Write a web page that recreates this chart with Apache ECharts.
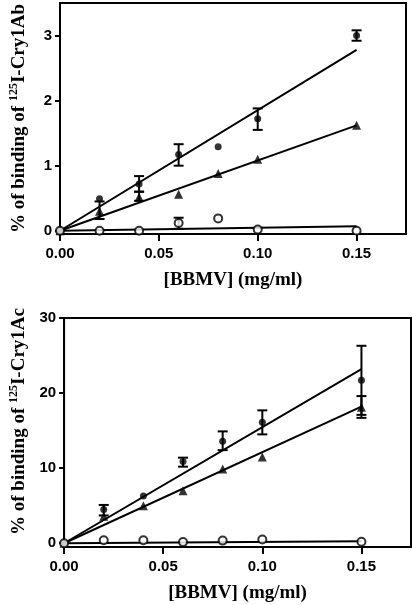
<!DOCTYPE html>
<html><head><meta charset="utf-8">
<script src="https://cdn.jsdelivr.net/npm/echarts@6/dist/echarts.min.js"></script>
<style>html,body{margin:0;padding:0;background:#fff}#c{width:412px;height:605px}</style>
</head><body><div id="c"></div>
<script>
// ---- data ----
const xValues = [0, 0.02, 0.04, 0.06, 0.08, 0.10, 0.15];
const xTicks = [0, 0.05, 0.10, 0.15];
const fitX = [0, 0.15];

// Top panel: 125I-Cry1Ab
const abTicks = [0, 1, 2, 3];
const abCircle = [0, 0.49, 0.72, 1.17, 1.29, 1.72, 3.00];
const abTriangle = [0, 0.30, 0.52, 0.56, 0.88, 1.10, 1.62];
const abOpen = [0, 0.00, 0.00, 0.12, 0.19, 0.02, 0.00];
const abCircleErr = [[0.04, 0.60, 0.84], [0.06, 1.00, 1.33], [0.10, 1.55, 1.88], [0.15, 2.92, 3.08]];
const abTriangleErr = [[0.02, 0.18, 0.45], [0.04, 0.46, 0.60]];
const abOpenErr = [[0.06, 0.03, 0.20]];
const abFitCircle = [0, 2.78];
const abFitTriangle = [0, 1.62];
const abFitOpen = [0, 0.07];

// Bottom panel: 125I-Cry1Ac
const acTicks = [0, 10, 20, 30];
const acCircle = [0, 4.5, 6.3, 10.9, 13.6, 16.1, 21.7];
const acTriangle = [0, 3.6, 5.0, 7.0, 9.9, 11.5, 18.1];
const acOpen = [0, 0.40, 0.40, 0.15, 0.35, 0.50, 0.20];
const acCircleErr = [[0.02, 3.7, 5.1], [0.06, 10.2, 11.4], [0.08, 12.4, 14.9], [0.10, 14.5, 17.7], [0.15, 17.1, 26.3]];
const acTriangleErr = [[0.15, 16.7, 19.6]];
const acFitCircle = [0, 23.2];
const acFitTriangle = [0, 18.2];
const acFitOpen = [0, 0.25];

// ---- helpers ----
const pair = (xs, ys) => xs.map((x, i) => [x, ys[i]]);
const BLACK = '#000';
const tickFont = { fontFamily: 'Liberation Sans, Arial, sans-serif', fontWeight: 'bold', fontSize: 15, color: BLACK };
const titleFont = { fontFamily: 'Liberation Serif, Times New Roman, serif', fontWeight: 'bold', fontSize: 19, color: BLACK };

function errItem(params, api) {
  const x = api.value(0), lo = api.value(1), hi = api.value(2);
  const a = api.coord([x, lo]), b = api.coord([x, hi]);
  const w = 5;
  const style = { stroke: BLACK, lineWidth: 2 };
  return { type: 'group', children: [
    { type: 'line', shape: { x1: a[0], y1: a[1], x2: b[0], y2: b[1] }, style },
    { type: 'line', shape: { x1: a[0] - w, y1: a[1], x2: a[0] + w, y2: a[1] }, style },
    { type: 'line', shape: { x1: b[0] - w, y1: b[1], x2: b[0] + w, y2: b[1] }, style }
  ]};
}

function xAxisDef(gi) {
  return {
    type: 'value', gridIndex: gi, min: 0, max: 0.175,
    axisLine: { onZero: false, lineStyle: { color: BLACK, width: 2 } },
    axisTick: { customValues: xTicks, length: 7, lineStyle: { color: BLACK, width: 2 } },
    axisLabel: Object.assign({ customValues: xTicks, margin: 12, formatter: v => v.toFixed(2) }, tickFont),
    splitLine: { show: false },
    name: '[BBMV] (mg/ml)', nameLocation: 'middle', nameGap: 37,
    nameTextStyle: titleFont
  };
}
function yAxisDef(gi, min, max, ticks, name, gap, pad) {
  return {
    type: 'value', gridIndex: gi, min: min, max: max,
    axisLine: { onZero: false, lineStyle: { color: BLACK, width: 2 } },
    axisTick: { customValues: ticks, length: 5, lineStyle: { color: BLACK, width: 2 } },
    axisLabel: Object.assign({ customValues: ticks, margin: 8 }, tickFont),
    splitLine: { show: false },
    name: name, nameLocation: 'middle', nameGap: gap,
    nameTextStyle: Object.assign({}, titleFont, {
      padding: pad,
      rich: { sup: { fontFamily: titleFont.fontFamily, fontWeight: 'bold', fontSize: 12, color: BLACK, verticalAlign: 'top', lineHeight: 12 },
              t: { fontFamily: titleFont.fontFamily, fontWeight: 'bold', fontSize: 19, color: BLACK, lineHeight: 22 } }
    })
  };
}

function panelSeries(gi, circ, tri, open, circErr, triErr, openErr, fc, ft, fo) {
  const ax = { xAxisIndex: gi, yAxisIndex: gi };
  const lineS = (d) => Object.assign({ type: 'line', data: pair(fitX, d), showSymbol: false, symbol: 'none',
    lineStyle: { color: BLACK, width: 2 }, z: 2, silent: true }, ax);
  const errS = (d) => Object.assign({ type: 'custom', data: d, renderItem: errItem, encode: { x: 0, y: [1, 2] }, z: 3, silent: true }, ax);
  const s = [
    lineS(fc), lineS(ft), lineS(fo),
    errS(circErr), errS(triErr)
  ];
  if (openErr.length) s.push(errS(openErr));
  s.push(Object.assign({ type: 'scatter', data: pair(xValues, circ), symbol: 'circle', symbolSize: 7,
    itemStyle: { color: BLACK }, z: 4 }, ax));
  s.push(Object.assign({ type: 'scatter', data: pair(xValues, tri), symbol: 'triangle', symbolSize: 9,
    itemStyle: { color: BLACK }, z: 4 }, ax));
  s.push(Object.assign({ type: 'scatter', data: pair(xValues, open), symbol: 'circle', symbolSize: 8,
    itemStyle: { color: '#fff', borderColor: BLACK, borderWidth: 2 }, z: 5 }, ax));
  return s;
}

const chart = echarts.init(document.getElementById('c'), null, { renderer: 'canvas' });
chart.setOption({
  animation: false,
  backgroundColor: '#fff',
  grid: [
    { left: 58, top: 3, width: 348, height: 231, show: true, borderColor: BLACK, borderWidth: 2, backgroundColor: 'transparent' },
    { left: 62, top: 318, width: 349, height: 229, show: true, borderColor: BLACK, borderWidth: 2, backgroundColor: 'transparent' }
  ],
  xAxis: [xAxisDef(0), xAxisDef(1)],
  yAxis: [
    yAxisDef(0, -0.05, 3.5, abTicks, '{t|% of binding of }{sup|125}{t|I-Cry1Ab}', 30, [0, 0, 0, 0]),
    yAxisDef(1, -0.5, 30, acTicks, '{t|% of binding of }{sup|125}{t|I-Cry1Ac}', 34, [0, 0, 0, 22])
  ],
  series: [].concat(
    panelSeries(0, abCircle, abTriangle, abOpen, abCircleErr, abTriangleErr, abOpenErr, abFitCircle, abFitTriangle, abFitOpen),
    panelSeries(1, acCircle, acTriangle, acOpen, acCircleErr, acTriangleErr, [], acFitCircle, acFitTriangle, acFitOpen)
  )
});
</script>
</body></html>
